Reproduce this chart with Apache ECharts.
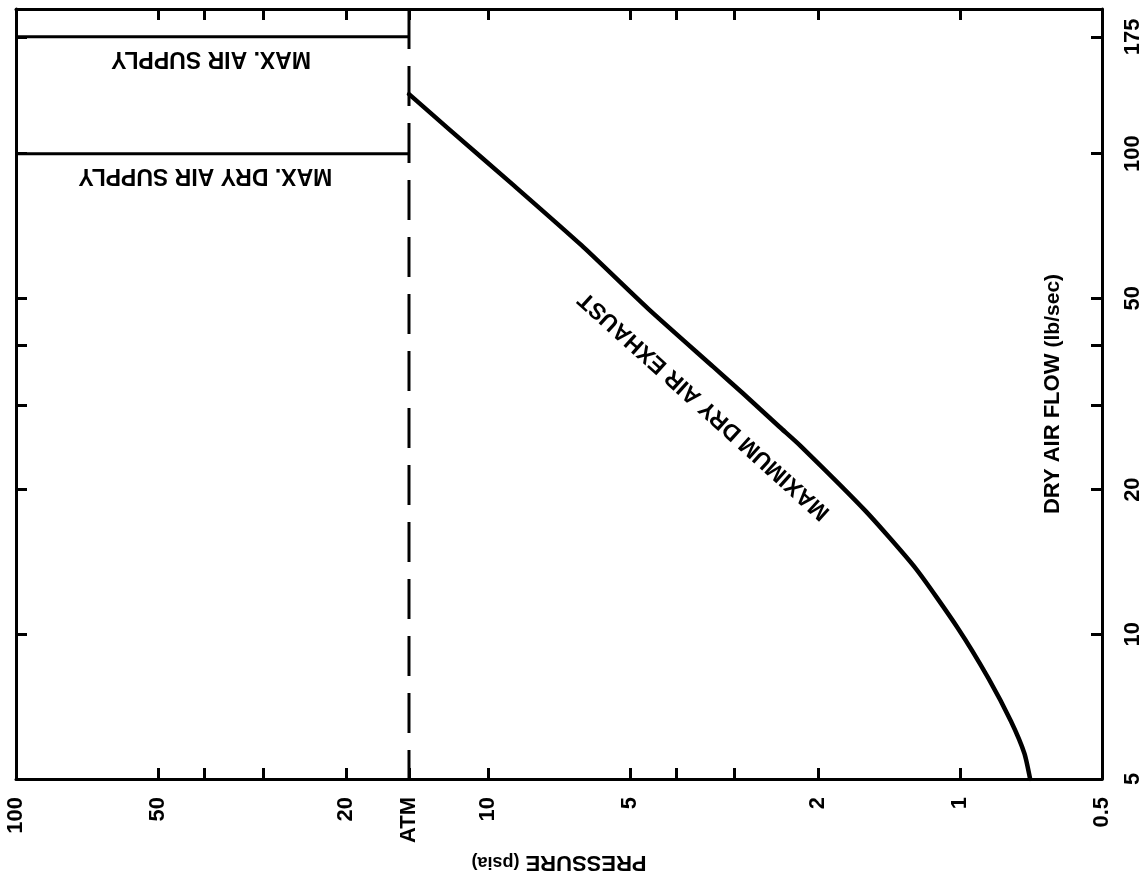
<!DOCTYPE html>
<html>
<head>
<meta charset="utf-8">
<script src="https://cdn.jsdelivr.net/npm/echarts@6/dist/echarts.min.js"></script>
<style>
html,body{margin:0;padding:0;background:#fff;}
#c{width:1148px;height:873px;}
</style>
</head>
<body>
<div id="c"></div>
<script>
// ---------- data ----------
const pressureMin = 0.5;
const pressureMax = 100;
const flowMin = 5;
const flowMax = 200;
const ATM = 14.7;

const pressureTicks = [0.5, 1, 2, 5, 10, 14.7, 20, 50, 100];
const pressureTickLabels = ['0.5', '1', '2', '5', '10', 'ATM', '20', '50', '100'];
const pressureMinorTicks = [3, 4, 30, 40];

const flowTicks = [5, 10, 20, 50, 100, 175];
const flowTickLabels = ['5', '10', '20', '50', '100', '175'];
const flowMinorTicks = [30, 40];

// Maximum dry air exhaust curve (pressure psia -> flow lb/sec)
const exhaustPressure = [14.7, 12.1,  8.77, 6.34, 4.58, 3.33, 2.88, 2.41, 2.18, 1.58, 1.24, 1.01, 0.87, 0.78, 0.73, 0.71];
const exhaustFlow     = [133,  112.5, 85.5, 64.5, 47.6, 36.0, 31.7, 27.0, 24.7, 18.0, 13.7, 10.3, 8.1,  6.6,  5.65, 5.0];

// Supply limits (flow, lb/sec) drawn from 100 psia down to ATM
const supplyPressures = [100, 14.7];
const maxAirSupply = [175, 175];
const maxDryAirSupply = [100, 100];

// ---------- chart ----------
const FONT = '"Liberation Sans", Arial, Helvetica, sans-serif';
const BLACK = '#000';

function labelFor(ticks, labels) {
  return function (v) {
    const i = ticks.findIndex(t => Math.abs(t - v) < 1e-6 * Math.max(1, t));
    return i >= 0 ? labels[i] : '';
  };
}

function xAxisDef(position, showLabels) {
  return {
    type: 'log', logBase: 10, min: pressureMin, max: pressureMax, inverse: true,
    position: position,
    axisLine: { show: true, onZero: false, lineStyle: { color: BLACK, width: 3 } },
    axisTick: { show: true, inside: true, length: 11, lineStyle: { color: BLACK, width: 3 },
                customValues: pressureTicks.concat(pressureMinorTicks) },
    axisLabel: { show: showLabels, customValues: pressureTicks, rotate: 90, margin: 18,
                 formatter: labelFor(pressureTicks, pressureTickLabels),
                 color: BLACK, fontFamily: FONT, fontWeight: 'bold', fontSize: 22 },
    splitLine: { show: false }, minorTick: { show: false }, minorSplitLine: { show: false }
  };
}
function yAxisDef(position, showLabels) {
  return {
    type: 'log', logBase: 10, min: flowMin, max: flowMax,
    position: position,
    axisLine: { show: true, onZero: false, lineStyle: { color: BLACK, width: 3 } },
    axisTick: { show: true, inside: true, length: 11, lineStyle: { color: BLACK, width: 3 },
                customValues: flowTicks.concat(flowMinorTicks) },
    axisLabel: { show: showLabels, customValues: flowTicks, rotate: 90, margin: 20,
                 formatter: labelFor(flowTicks, flowTickLabels),
                 color: BLACK, fontFamily: FONT, fontWeight: 'bold', fontSize: 22 },
    splitLine: { show: false }, minorTick: { show: false }, minorSplitLine: { show: false }
  };
}

const xBottom = xAxisDef('bottom', true);
xBottom.name = '{a|PRESSURE} {b|(psia)}';
xBottom.nameLocation = 'middle';
xBottom.nameGap = 62;
xBottom.nameRotate = 180;
xBottom.nameTextStyle = {
  color: BLACK, fontFamily: FONT, fontWeight: 'bold', fontSize: 22,
  rich: {
    a: { color: BLACK, fontFamily: FONT, fontWeight: 'bold', fontSize: 22 },
    b: { color: BLACK, fontFamily: FONT, fontWeight: 'bold', fontSize: 18 }
  }
};
const xTop = xAxisDef('top', false);

const yRight = yAxisDef('right', true);
yRight.name = '{a|DRY AIR FLOW} {b|(lb/sec)}';
yRight.nameLocation = 'middle';
yRight.nameGap = -60;
yRight.nameRotate = 90;
yRight.nameTextStyle = {
  color: BLACK, fontFamily: FONT, fontWeight: 'bold', fontSize: 22,
  rich: {
    a: { color: BLACK, fontFamily: FONT, fontWeight: 'bold', fontSize: 22 },
    b: { color: BLACK, fontFamily: FONT, fontWeight: 'bold', fontSize: 21 }
  }
};
const yLeft = yAxisDef('left', false);

const zip = (xs, ys) => xs.map((x, i) => [x, ys[i]]);

const option = {
  animation: false,
  backgroundColor: '#fff',
  grid: { left: 16, right: 46, top: 9, bottom: 94, containLabel: false, outerBoundsMode: 'none' },
  xAxis: [xBottom, xTop],
  yAxis: [yRight, yLeft],
  series: [
    { name: 'Maximum dry air exhaust', type: 'line', xAxisIndex: 0, yAxisIndex: 0,
      data: zip(exhaustPressure, exhaustFlow), showSymbol: false, symbol: 'none',
      smooth: 0.2,
      lineStyle: { color: BLACK, width: 4.5, join: 'round', cap: 'round' }, silent: true },
    { name: 'Max. air supply', type: 'line', xAxisIndex: 0, yAxisIndex: 0,
      data: zip(supplyPressures, maxAirSupply), showSymbol: false, symbol: 'none',
      lineStyle: { color: BLACK, width: 3 }, silent: true },
    { name: 'Max. dry air supply', type: 'line', xAxisIndex: 0, yAxisIndex: 0,
      data: zip(supplyPressures, maxDryAirSupply), showSymbol: false, symbol: 'none',
      lineStyle: { color: BLACK, width: 3 }, silent: true },
    { name: 'ATM', type: 'line', xAxisIndex: 0, yAxisIndex: 0,
      data: [[ATM, flowMax], [ATM, flowMin]], showSymbol: false, symbol: 'none',
      lineStyle: { color: BLACK, width: 3, type: [40, 17] }, silent: true }
  ]
};

const chart = echarts.init(document.getElementById('c'));
chart.setOption(option);

// ---------- annotations (anchored in data coordinates) ----------
function px(p, f) { return chart.convertToPixel({ xAxisIndex: 0, yAxisIndex: 0 }, [p, f]); }
const textStyleBase = { fill: BLACK, font: 'bold 23px ' + FONT, align: 'center', verticalAlign: 'middle' };
const a1 = px(38.6, 158);
const a2 = px(39.7, 90);
const a3 = px(3.48, 29.9);
// angle of the exhaust curve around the label (for text rotation)
const s1 = px(4.58, 47.6), s2 = px(2.18, 24.7);
const ang = Math.atan2(s2[1] - s1[1], s2[0] - s1[0]);
chart.setOption({
  graphic: [
    { type: 'text', x: a1[0], y: a1[1], rotation: Math.PI, silent: true,
      style: Object.assign({ text: 'MAX. AIR SUPPLY' }, textStyleBase) },
    { type: 'text', x: a2[0], y: a2[1], rotation: Math.PI, silent: true,
      style: Object.assign({ text: 'MAX. DRY AIR SUPPLY' }, textStyleBase) },
    { type: 'text', x: a3[0], y: a3[1], rotation: Math.PI - ang, silent: true,
      style: Object.assign({ text: 'MAXIMUM DRY AIR EXHAUST' }, textStyleBase) }
  ]
});
</script>
</body>
</html>
